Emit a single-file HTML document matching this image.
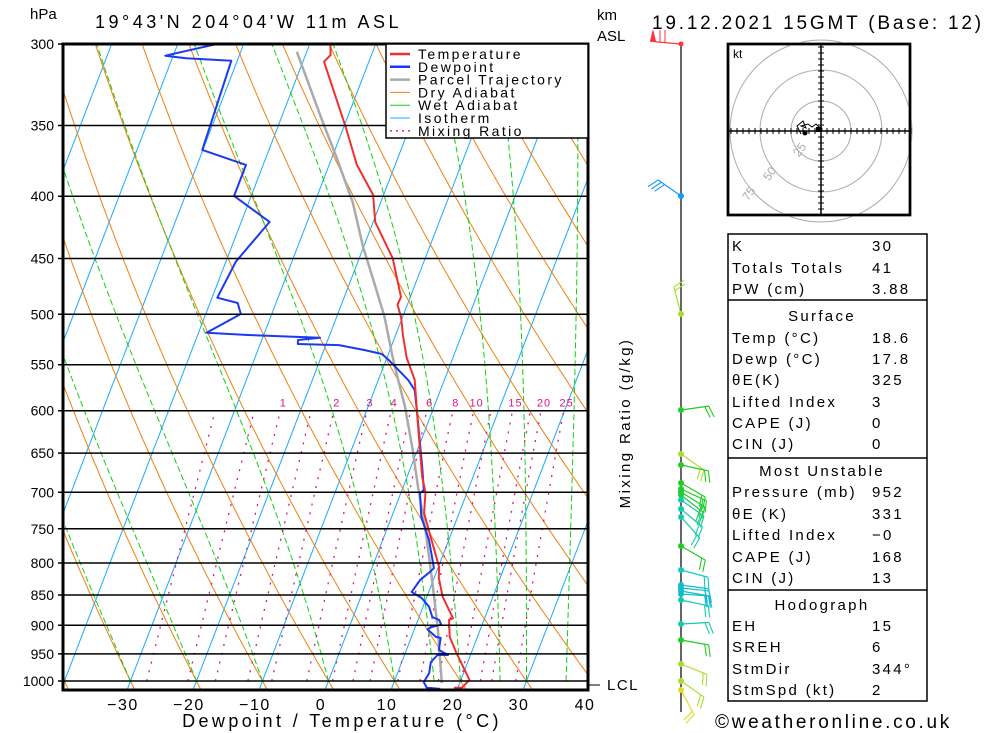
<!DOCTYPE html>
<html><head><meta charset="utf-8"><style>
body{margin:0;background:#fff;}
svg{display:block;font-family:"Liberation Sans",sans-serif;}
</style></head><body>
<svg id="chart" width="1000" height="733" viewBox="0 0 1000 733">
<defs><clipPath id="plotclip"><rect x="63" y="44" width="525" height="646"/></clipPath></defs>
<g id="bg" clip-path="url(#plotclip)"></g>
<g id="series" clip-path="url(#plotclip)"></g>
<g id="axes"></g>
<text x="30" y="19" font-size="15">hPa</text>
<text x="95" y="28" font-size="18" letter-spacing="3.5">19°43'N  204°04'W  11m  ASL</text>
<text x="597" y="20" font-size="15">km</text>
<text x="597" y="41" font-size="15">ASL</text>
<text x="652" y="29" font-size="19" letter-spacing="2.8">19.12.2021  15GMT  (Base: 12)</text>
<text x="342" y="727" font-size="18" text-anchor="middle" letter-spacing="3.4">Dewpoint / Temperature (°C)</text>
<text transform="translate(630,423) rotate(-90)" font-size="15" text-anchor="middle" letter-spacing="2.4">Mixing Ratio (g/kg)</text>
<g><line x1="588" y1="685" x2="600" y2="685" stroke="#000"/><text x="607" y="690" font-size="15" letter-spacing="1.5">LCL</text></g>
<g id="legend"></g>
<g id="wind"></g>
<g id="hodo"></g>
<g id="table"></g>
<text x="715" y="728" font-size="19" letter-spacing="2.7">©weatheronline.co.uk</text>
</svg>
<script>
// ---- data ----
const tempP = [300.6,306.3,310.2,351,377,399,420,450,484,491,503,520,543,566,601,650,680,700,728,762,806,823,853,888,891,920,949,967,998,1013,1013];
const tempT = [-36.8,-36.2,-36.8,-29.7,-25.8,-21.6,-19.7,-14.9,-11.4,-11.5,-10.2,-8.9,-7.0,-4.5,-2.3,0.6,2.3,3.7,4.7,7.1,10.1,10.7,12.4,15.2,14.7,15.8,17.8,19.1,21.3,20.6,19.4];
const dewP = [300,306.7,308.2,309.7,366.5,377,399.8,419.9,452.7,484.6,489.5,499.7,517.7,520,522.6,524.9,528.9,530,535,539,545,566,577,601,667,697,701,733.5,766,808,815,826,845,855,869,886,891,899,903,907,920,922,943,952,952,965,985,1002,1013,1015];
const dewT = [-54.1,-61.2,-57.9,-50.9,-50.1,-42.6,-42.6,-35.7,-38.5,-39.2,-35.8,-34.7,-38.8,-32.4,-21.3,-24.5,-24.3,-18.0,-13.8,-11.0,-9.6,-5.5,-3.9,-2.3,1.7,3.3,2.9,4.5,7.0,9.4,8.9,8.0,7.4,9.3,10.9,12.0,13.2,13.8,12.5,12.0,13.7,14.5,14.9,16.6,15.0,14.4,14.8,14.5,15.3,17.4];
const parcelP = [304.4,346.4,371.2,405,440,471,502,543,566,595.5,642,697,752,826,908,1004];
const parcelT = [-41.5,-33.7,-29.4,-24.2,-20.1,-16.3,-12.8,-9.1,-7.0,-4.4,-1.0,2.5,5.9,9.8,13.6,17.3];
const pressureTicks = [300,350,400,450,500,550,600,650,700,750,800,850,900,950,1000];
const tempTicks = [-30,-20,-10,0,10,20,30,40];
const mixRatios = [0.4,0.7,1,1.5,2,3,4,5,6,8,10,12,15,18,20,25];
const mixLabels = [1,2,3,4,6,8,10,15,20,25];
const dryT0 = [-60,-50,-40,-30,-20,-10,0,10,20,30,40,50,60,70,80,90,100,110,120,130,140,150];
const wetT0 = [-40,-30,-20,-10,0,10,16,20,26,30,36];
// wind barbs: y of station, shaft angle (deg), colour
const windY = [196,314,410,454,465,483,489,492,495,500,509,517,546,570,585,588,591,594,600,624,640,664,681,690];
const windAng = [-145,-105,-8,35,12,30,25,32,38,35,40,48,30,15,8,6,10,4,12,-3,10,22,35,62];
const windCol = ['#19f','#ad3','#2c2','#ad3','#2c2','#2c2','#2c2','#1c4','#2c3','#1ca','#1ca','#1ca','#2c2','#1cb','#1bc','#1bc','#1bc','#1bc','#1ca','#1ca','#2c2','#ad3','#ad3','#dd2'];

// ---- axes ----
const Y0=44, YB=690, LN=Math.log(1000/300);
function yP(p){return Y0+637*Math.log(p/300)/LN;}
function xT(T,y){return 325+6.6*T+0.385*(YB-y);}
const NS='http://www.w3.org/2000/svg';
function mk(tag,attrs,parent){const e=document.createElementNS(NS,tag);for(const k in attrs)e.setAttribute(k,attrs[k]);parent.appendChild(e);return e;}
const bg=document.getElementById('bg'), ser=document.getElementById('series'), ax=document.getElementById('axes');
function pathFrom(pts){return 'M'+pts.map(p=>p[0].toFixed(1)+','+p[1].toFixed(1)).join('L');}

for(let T=-120;T<=40;T+=10){
  const l=mk('line',{x1:xT(T,YB),y1:YB,x2:xT(T,Y0),y2:Y0,stroke:'#19aaff','stroke-width':1},bg);
  
  
}
dryT0.forEach(t0=>{
  const th=t0+273.15;const pts=[];
  for(let p=1020;p>=295;p-=5){const T=th*Math.pow(p/1000,0.286)-273.15;const y=yP(p);pts.push([xT(T,y),y]);}
  const e=mk('path',{d:pathFrom(pts),fill:'none',stroke:'#f08010','stroke-width':1},bg);
  
  
});
function es(T){return 6.112*Math.exp(17.67*T/(T+243.5));}
wetT0.forEach(t0=>{
  let T=t0+273.15;const pts=[];
  for(let p=1000;p>=295;p-=2){
    const y=yP(p);pts.push([xT(T-273.15,y),y]);
    const e=es(T-273.15);const rs=0.622*e/(p-e);
    const Lv=2.5e6,Rd=287,cp=1004;
    const dTdp=(Rd*T+Lv*rs)/(p*(cp+Lv*Lv*rs*0.622/(Rd*T*T)));
    T-=dTdp*2;
  }
  const e=mk('path',{d:pathFrom(pts),fill:'none',stroke:'#10d010','stroke-width':1,'stroke-dasharray':'6,3'},bg);
  
  
});
function tdW(w,p){const e=w*p/(622+w);const l=Math.log(e/6.112);return 243.5*l/(17.67-l);}
mixRatios.forEach(w=>{
  const pts=[];for(let p=1000;p>=600;p-=10){const y=yP(p);pts.push([xT(tdW(w,p),y),y]);}
  const e=mk('path',{d:pathFrom(pts),fill:'none',stroke:'#e0108a','stroke-width':1.3,'stroke-dasharray':'2,7'},bg);
  
  
});
mixLabels.forEach(w=>{
  const y=yP(600);const t=mk('text',{x:xT(tdW(w,600),y)+3,y:y-4,'font-size':11,fill:'#e0108a','text-anchor':'middle','letter-spacing':'1'},ax);
  t.textContent=w;
  
  
});
pressureTicks.forEach(p=>{
  const y=yP(p);
  const l=mk('line',{x1:58,y1:y,x2:588,y2:y,stroke:'#000','stroke-width':1.5},ax);
  
  
  const t=mk('text',{x:54,y:y+5,'font-size':14,'text-anchor':'end'},ax);
  t.textContent=p;
  
  
});
const fr=mk('rect',{x:63,y:44,width:525,height:646,fill:'none',stroke:'#000','stroke-width':3},ax);


tempTicks.forEach(T=>{
  const t=mk('text',{x:xT(T,YB)-4,y:710,'font-size':16,'text-anchor':'middle','letter-spacing':'1.5'},ax);
  t.textContent=(T<0?'\u2212'+(-T):T);
  
  
});
function series(P,T,col,w,name){
  const pts=P.map((p,i)=>{const y=yP(p);return [xT(T[i],y),y];});
  const e=mk('path',{d:pathFrom(pts),fill:'none',stroke:col,'stroke-width':w,'stroke-linejoin':'round'},ser);
  
  
}
series(parcelP,parcelT,'#aaa',2.5,'parcel-trajectory-line');
series(dewP,dewT,'#1b3af0',2,'dewpoint-line');
series(tempP,tempT,'#f03030',2,'temperature-line');

const lg=document.getElementById('legend');
mk('rect',{x:386,y:44,width:202,height:94,fill:'#fff',stroke:'#000','stroke-width':1.5},lg);
const legItems=[['Temperature','#f03030',2.5,''],['Dewpoint','#1b3af0',2.5,''],['Parcel Trajectory','#aaa',2.5,''],['Dry Adiabat','#f08010',1,''],['Wet Adiabat','#10d010',1,''],['Isotherm','#19aaff',1,''],['Mixing Ratio','#e0108a',1.3,'2,4']];
legItems.forEach((it,i)=>{
  const y=54+i*12.8;
  const g=mk('g',{},lg);
  
  
  mk('line',{x1:390,y1:y,x2:410,y2:y,stroke:it[1],'stroke-width':it[2],'stroke-dasharray':it[3]},g);
  const t=mk('text',{x:418,y:y+5,'font-size':14,'letter-spacing':'2.4'},g);t.textContent=it[0];
});

const wd=document.getElementById('wind');
mk('line',{x1:681,y1:44,x2:681,y2:712,stroke:'#000','stroke-width':1.2},wd);
mk('polyline',{points:'681,44 658,42 650,41',fill:'none',stroke:'#f33','stroke-width':1.3},wd);
mk('polygon',{points:'650,41 653,29 656,41',fill:'#f33'},wd);
mk('line',{x1:660,y1:42,x2:660,y2:30,stroke:'#f33'},wd);
mk('line',{x1:665,y1:42,x2:665,y2:30,stroke:'#f33'},wd);
mk('circle',{cx:681,cy:44,r:2.5,fill:'#f33'},wd);
windY.forEach((y,i)=>{
  const a=windAng[i]*Math.PI/180, L=28;
  const ex=681+L*Math.cos(a), ey=y+L*Math.sin(a);
  const g=mk('g',{},wd);
  
  
  mk('line',{x1:681,y1:y,x2:ex,y2:ey,stroke:windCol[i],'stroke-width':1.2},g);
  const n=(i===0?3:2);
  for(let k=0;k<n;k++){
    const bx=ex-k*4*Math.cos(a), by=ey-k*4*Math.sin(a);
    const b=a+(i===0?-1.2:1.25);
    mk('line',{x1:bx,y1:by,x2:bx+12*Math.cos(b),y2:by+12*Math.sin(b),stroke:windCol[i],'stroke-width':1.1},g);
  }
  mk('circle',{cx:681,cy:y,r:3,fill:windCol[i]},g);
});

const hd=document.getElementById('hodo');
mk('rect',{x:728,y:44,width:182,height:171,fill:'#fff',stroke:'#000','stroke-width':2.5},hd);
const cx=821,cy=131;
[30,61,91].forEach(r=>mk('circle',{cx:cx,cy:cy,r:r,fill:'none',stroke:'#aaa','stroke-width':1},hd));
mk('rect',{x:728,y:44,width:182,height:171,fill:'none',stroke:'#000','stroke-width':2.5},hd);
mk('line',{x1:728,y1:cy,x2:910,y2:cy,stroke:'#000','stroke-width':1.5},hd);
mk('line',{x1:cx,y1:44,x2:cx,y2:215,stroke:'#000','stroke-width':1.5},hd);
for(let d=-90;d<=90;d+=6){
  mk('line',{x1:cx+d,y1:cy-3,x2:cx+d,y2:cy+3,stroke:'#000'},hd);
  if(Math.abs(d)<=84) mk('line',{x1:cx-3,y1:cy+d,x2:cx+3,y2:cy+d,stroke:'#000'},hd);
}
[['25',803,152],['50',773,176],['75',752,196]].forEach(l=>{const t=mk('text',{transform:`translate(${l[1]},${l[2]}) rotate(-55)`,'font-size':12,fill:'#aaa','text-anchor':'middle'},hd);t.textContent=l[0];});
const hk=mk('text',{x:733,y:58,'font-size':12},hd);hk.textContent='kt';
mk('polyline',{points:'801,134 797,126 803,121 806,128 801,126 808,124 812,127 816,124 820,128 818,132',fill:'none',stroke:'#000','stroke-width':1},hd);
mk('circle',{cx:805,cy:133,r:2.5,fill:'#000'},hd);
mk('circle',{cx:820,cy:129,r:2.5,fill:'#000'},hd);
mk('rect',{x:816,y:127,width:5,height:5,fill:'#000'},hd);

const tb=document.getElementById('table');
mk('rect',{x:728,y:234,width:199,height:467,fill:'none',stroke:'#000','stroke-width':1.5},tb);
[300,458,590].forEach(y=>mk('line',{x1:728,y1:y,x2:927,y2:y,stroke:'#000','stroke-width':1.5},tb));
const rows=[['K','30',251],['Totals Totals','41',273],['PW (cm)','3.88',294],['Temp (°C)','18.6',343],['Dewp (°C)','17.8',364],['θE(K)','325',385],['Lifted Index','3',407],['CAPE (J)','0',428],['CIN (J)','0',449],['Pressure (mb)','952',497],['θE (K)','331',519],['Lifted Index','\u22120',540],['CAPE (J)','168',562],['CIN (J)','13',583],['EH','15',631],['SREH','6',652],['StmDir','344°',674],['StmSpd (kt)','2',695]];
rows.forEach(r=>{
  const g=mk('g',{},tb);
  
  
  const a=mk('text',{x:732,y:r[2],'font-size':15,'letter-spacing':'2.3'},g);a.textContent=r[0];
  const b=mk('text',{x:872,y:r[2],'font-size':15,'letter-spacing':'2.3'},g);b.textContent=r[1];
});
[['Surface',321],['Most Unstable',476],['Hodograph',610]].forEach(h=>{
  const t=mk('text',{x:822,y:h[1],'font-size':15,'text-anchor':'middle','letter-spacing':'2.3'},tb);t.textContent=h[0];
  
  
});
</script>
</body></html>
